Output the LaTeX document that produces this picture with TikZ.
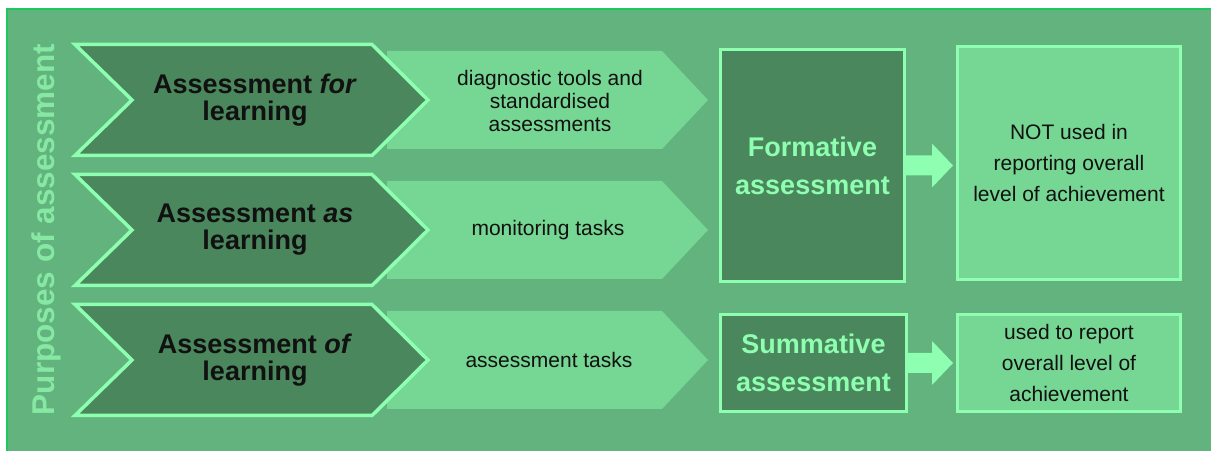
\documentclass[tikz,border=0pt]{standalone}
\usepackage{fontspec}
\setmainfont{Liberation Sans}
\usetikzlibrary{calc}
\definecolor{bgc}{HTML}{62B37E}
\definecolor{darkc}{HTML}{4A875C}
\definecolor{lightc}{HTML}{76D693}
\definecolor{edgec}{HTML}{8EFFB0}
\definecolor{framec}{HTML}{1EC860}
\definecolor{vtextc}{HTML}{86E8A3}
\definecolor{inkc}{HTML}{111111}
\begin{document}
\begin{tikzpicture}[x=1bp,y=-1bp,
  darkchev/.style={fill=darkc,draw=edgec,line width=3.5bp,line join=miter},
  lightchev/.style={fill=lightc},
  chevtxt/.style={font=\fontsize{27bp}{27bp}\selectfont\bfseries,text=inkc,align=center,inner sep=0pt},
  smalltxt/.style={font=\fontsize{21bp}{23bp}\selectfont,text=inkc,align=center,inner sep=0pt},
  darkbox/.style={fill=darkc,draw=edgec,line width=3bp,align=center,text=edgec,
    font=\fontsize{27bp}{38bp}\selectfont\bfseries,inner sep=0pt},
  lightbox/.style={fill=lightc,draw=edgec,line width=3bp,align=center,text=inkc,
    font=\fontsize{21bp}{31bp}\selectfont,inner sep=0pt},
  blockarrow/.style={fill=edgec},
  vtext/.style={font=\fontsize{31.5bp}{31bp}\selectfont\bfseries,text=vtextc,inner sep=0pt}
]
\useasboundingbox (0,0) rectangle (1211,451);
\fill[white] (0,0) rectangle (1211,451);
\fill[bgc] (7,9) rectangle (1211,451);
\draw[framec,line width=2bp] (7,451) -- (7,9) -- (1211,9);

\foreach \dy in {0,130,260} {
  \fill[lightchev] (387,51+\dy) -- (662,51+\dy) -- (708,100+\dy) -- (662,149+\dy) -- (387,149+\dy) -- cycle;
  \draw[darkchev] (75,44.5+\dy) -- (372,44.5+\dy) -- (428,100+\dy) -- (372,155.5+\dy) -- (75,155.5+\dy) -- (132,100+\dy) -- cycle;
}

\node[chevtxt] (afor) at (255,100) {Assessment \textit{for}\\learning};
\node[chevtxt] (aas) at (255,230) {Assessment \textit{as}\\learning};
\node[chevtxt] (aof) at (255,360) {Assessment \textit{of}\\learning};

\node[smalltxt] (diag) at (550,101) {diagnostic tools and\\standardised\\assessments};
\node[smalltxt] (mon) at (548,230) {monitoring tasks};
\node[smalltxt] (tasks) at (549,360) {assessment tasks};

\node[darkbox,minimum width=184bp,minimum height=232bp] (form) at (812.5,165.5) {Formative\\assessment};
\node[lightbox,minimum width=223bp,minimum height=233bp] (notused) at (1069,163) {NOT used in\\reporting overall\\level of achievement};
\node[darkbox,minimum width=186bp,minimum height=97bp] (summ) at (813.5,363) {Summative\\assessment};
\node[lightbox,minimum width=223bp,minimum height=97bp] (used) at (1069,363) {used to report\\overall level of\\achievement};

\fill[blockarrow] ($(form.east)+(-1,-10)$) -- ($(form.east -| notused.west)+(-24,-10)$)
  -- ($(form.east -| notused.west)+(-24,-22)$) -- ($(form.east -| notused.west)+(-3,0)$)
  -- ($(form.east -| notused.west)+(-24,22)$) -- ($(form.east -| notused.west)+(-24,10)$)
  -- ($(form.east)+(-1,10)$) -- cycle;
\fill[blockarrow] ($(summ.east)+(-1,-10)$) -- ($(summ.east -| used.west)+(-24,-10)$)
  -- ($(summ.east -| used.west)+(-24,-22)$) -- ($(summ.east -| used.west)+(-3,0)$)
  -- ($(summ.east -| used.west)+(-24,22)$) -- ($(summ.east -| used.west)+(-24,10)$)
  -- ($(summ.east)+(-1,10)$) -- cycle;

\node[vtext,rotate=90,anchor=base] (purp) at (54,229.5) {Purposes of assessment};
\end{tikzpicture}
\end{document}
